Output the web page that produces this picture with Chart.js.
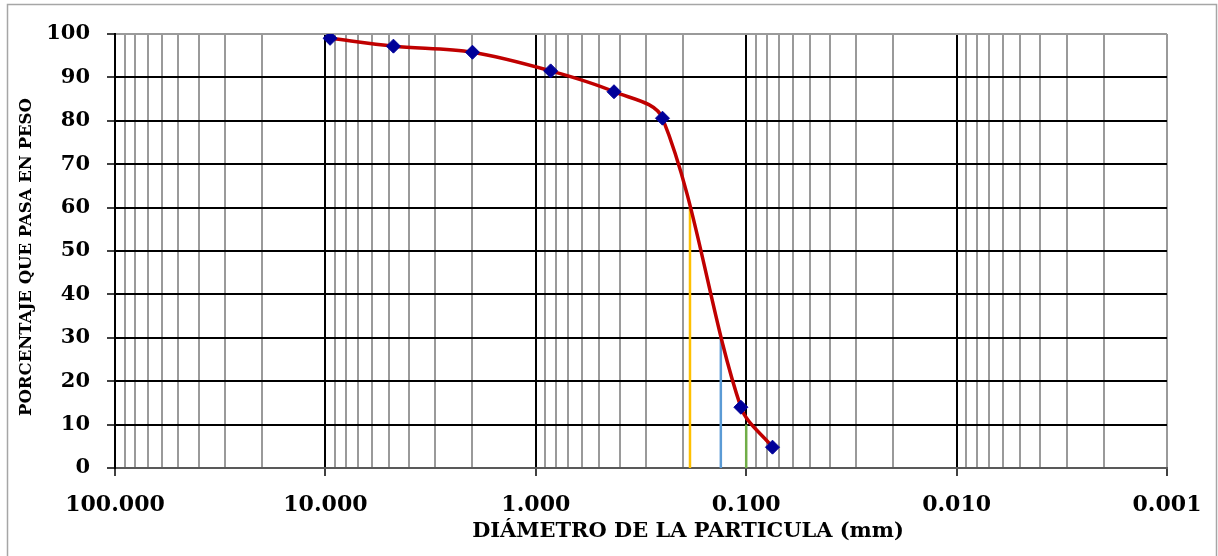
<!DOCTYPE html>
<html>
<head>
<meta charset="utf-8">
<script src="https://cdn.jsdelivr.net/npm/chart.js@4/dist/chart.umd.min.js"></script>
<style>
    body { margin: 0; background: #fff; }
    #wrap { width: 1218px; height: 556px; position: relative; }
</style>
</head>
<body>
<div id="wrap"><canvas id="granulometria"></canvas></div>
<script>
// sieve openings (mm) and percent passing
const sizes = [9.5, 4.75, 2.0, 0.85, 0.425, 0.25, 0.106, 0.075];
const passing = [99.0, 97.2, 95.8, 91.5, 86.7, 80.6, 14.0, 4.8];

// D60, D30, D10 guide lines
const dSizes = [0.185, 0.132, 0.1];
const dPercents = [60, 30, 10];
const dColors = ['#FFC000', '#5B9BD5', '#70AD47'];

const decades = [100, 10, 1, 0.1, 0.01, 0.001];
const xTickLabels = ['100.000', '10.000', '1.000', '0.100', '0.010', '0.001'];
const yTicks = [0, 10, 20, 30, 40, 50, 60, 70, 80, 90, 100];

const xTitle = 'DIÁMETRO DE LA PARTICULA (mm)';
const yTitle = 'PORCENTAJE QUE PASA EN PESO';

const serif = "'DejaVu Serif', 'Liberation Serif', serif";

// minor tick values: 1..9 in each decade
const xTickValues = [];
decades.slice(1).forEach(d => {
    for (let m = 1; m <= 9; m++) xTickValues.push(+(d * m).toPrecision(3));
});
xTickValues.push(100);

function isDecade(v) {
    const l = Math.log10(v);
    return Math.abs(l - Math.round(l)) < 1e-9;
}

function fitFont(ctx, text, width, weight) {
    let size = 30;
    ctx.font = `${weight} ${size}px ${serif}`;
    size = size * width / ctx.measureText(text).width;
    ctx.font = `${weight} ${size}px ${serif}`;
    return size;
}

const framePlugin = {
    id: 'frame',
    beforeDraw(chart) {
        const ctx = chart.ctx;
        ctx.save();
        ctx.strokeStyle = '#A6A6A6';
        ctx.lineWidth = 1.5;
        ctx.strokeRect(7.5, 4.5, 1209, 620);
        ctx.restore();
    },
    afterDraw(chart) {
        const ctx = chart.ctx;
        ctx.save();
        ctx.fillStyle = '#000';
        ctx.textAlign = 'center';
        ctx.textBaseline = 'middle';
        fitFont(ctx, xTitle, 432, 'bold');
        ctx.fillText(xTitle, 688, 532);
        ctx.translate(27, 257);
        ctx.rotate(-Math.PI / 2);
        fitFont(ctx, yTitle, 318, 'bold');
        ctx.fillText(yTitle, 0, 0);
        ctx.restore();
    }
};

const datasets = [{
    label: 'Curva',
    data: sizes.map((x, i) => ({ x: x, y: passing[i] })),
    showLine: true,
    borderColor: '#C00000',
    borderWidth: 3.5,
    tension: 0.33,
    pointStyle: 'rectRot',
    pointRadius: 7,
    pointBackgroundColor: '#000099',
    pointBorderColor: '#000099',
    pointBorderWidth: 1
}];

dSizes.forEach((d, i) => {
    datasets.push({
        label: 'D' + dPercents[i],
        data: [{ x: d, y: 0 }, { x: d, y: dPercents[i] }],
        showLine: true,
        borderColor: dColors[i],
        borderWidth: 2.5,
        pointRadius: 0
    });
});

new Chart(document.getElementById('granulometria'), {
    type: 'scatter',
    data: { datasets: datasets },
    options: {
        responsive: true,
        maintainAspectRatio: false,
        animation: false,
        layout: { padding: { left: 0, right: 51, top: 34, bottom: 0 } },
        plugins: {
            legend: { display: false },
            tooltip: { enabled: false }
        },
        scales: {
            x: {
                type: 'logarithmic',
                reverse: true,
                min: 0.001,
                max: 100,
                afterBuildTicks: scale => { scale.ticks = xTickValues.map(v => ({ value: v })); },
                afterFit: scale => { scale.height = 88; },
                ticks: {
                    autoSkip: false,
                    maxRotation: 0,
                    padding: 16,
                    color: '#000',
                    font: { family: serif, size: 22, weight: 'bold' },
                    callback: value => {
                        const i = decades.findIndex(d => Math.abs(d - value) < d * 1e-6);
                        return i >= 0 ? xTickLabels[i] : '';
                    }
                },
                grid: {
                    color: c => (c.tick && isDecade(c.tick.value) && c.tick.value > 0.0011) ? '#000' : '#9A9A9A',
                    lineWidth: 2,
                    tickLength: 8,
                    tickColor: c => (c.tick && isDecade(c.tick.value)) ? '#404040' : 'rgba(0,0,0,0)'
                },
                border: { display: true, color: '#595959', width: 2 }
            },
            y: {
                min: 0,
                max: 100,
                afterBuildTicks: scale => { scale.ticks = yTicks.map(v => ({ value: v })); },
                afterFit: scale => { scale.width = 115; },
                ticks: {
                    padding: 17,
                    color: '#000',
                    font: { family: serif, size: 21, weight: 'bold' }
                },
                grid: {
                    color: c => (c.tick && c.tick.value === 100) ? '#9A9A9A' : '#000',
                    lineWidth: 2,
                    tickLength: 8,
                    tickColor: '#404040'
                },
                border: { display: true, color: '#000', width: 2 }
            }
        }
    },
    plugins: [framePlugin]
});
</script>
</body>
</html>
